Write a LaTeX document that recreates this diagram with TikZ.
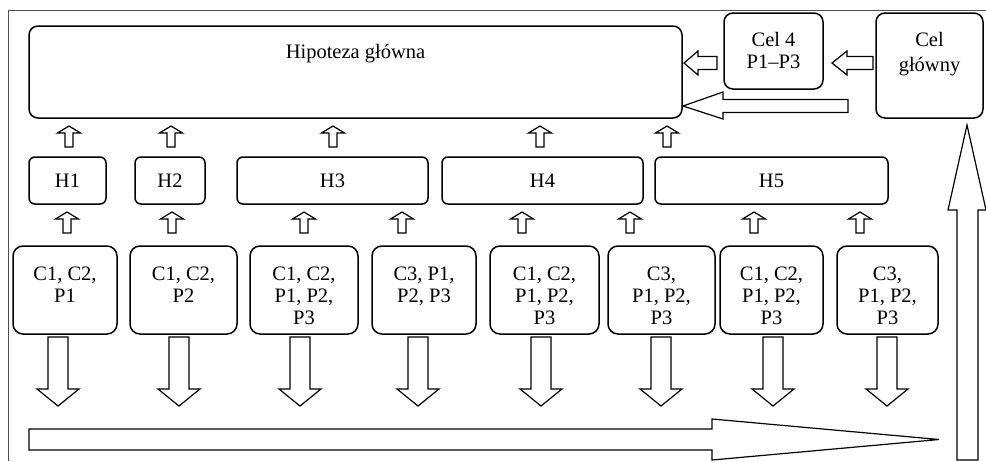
\documentclass[tikz,border=0pt]{standalone}
\usepackage{fontspec}
\setmainfont{Liberation Serif}
\usetikzlibrary{positioning}

% hollow block arrows (x = centre, y = tip)
\newcommand{\upblk}[2]{\draw[blk] (#1,#2) -- ++(11.5,7) -- ++(-7.5,0) -- ++(0,14) -- ++(-8,0) -- ++(0,-14) -- ++(-7.5,0) -- cycle;}
\newcommand{\downblk}[2]{\draw[blk] (#1,#2) -- ++(21,-17) -- ++(-11,0) -- ++(0,-52) -- ++(-20,0) -- ++(0,52) -- ++(-11,0) -- cycle;}
\newcommand{\leftblk}[2]{\draw[blk] (#1,#2) -- ++(14,-12) -- ++(0,5.5) -- ++(19,0) -- ++(0,13) -- ++(-19,0) -- ++(0,5.5) -- cycle;}

\begin{document}
\begin{tikzpicture}[x=1pt, y=-1pt,
    every node/.style={font=\fontsize{20.5}{22}\selectfont},
    box/.style={draw, line width=1.5pt, rounded corners=9pt, inner sep=0pt},
    hbox/.style={draw, line width=1.5pt, rounded corners=6pt, inner sep=0pt, minimum height=47pt},
    cbox/.style={draw, line width=1.5pt, rounded corners=10pt, inner sep=0pt, minimum height=88pt},
    txt/.style={inner sep=0pt, align=center},
    blk/.style={draw, line width=1.2pt, fill=white, line join=miter}]
  \useasboundingbox (0,0) rectangle (986,461);

  % frame
  \draw[black!70, line width=1pt] (8,461) -- (8,10) -- (986,10);

  \begin{scope}
    \node[box, minimum width=653pt, minimum height=92pt] (main) at (355.5,72) {};
    \node[txt, below=19pt of main.north] (maintxt) {Hipoteza główna};

    \node[box, minimum width=99pt, minimum height=76pt] (cel4) at (773.5,51) {};
    \node[txt, below=20pt of cel4.north] (cel4txt) {Cel 4\\P1–P3};

    \node[box, minimum width=107pt, minimum height=105pt] (celg) at (929.5,65.5) {};
    \node[txt, below=20pt of celg.north, font=\fontsize{20.5}{25}\selectfont] (celgtxt) {Cel\\główny};

    \leftblk{684}{63}
    \draw[blk] (832,63) -- ++(15,-12) -- ++(0,5.5) -- ++(26,0) -- ++(0,13) -- ++(-26,0) -- ++(0,5.5) -- cycle;
    \draw[blk] (683,106) -- (723,92) -- (723,99.5) -- (848,99.5) -- (848,112.5) -- (723,112.5) -- (723,119) -- cycle;
  \end{scope}

  \begin{scope}
    \node[hbox, minimum width=77pt] (h1) at (67.5,180.5) {H1};
    \node[hbox, minimum width=70pt] (h2) at (170,180.5) {H2};
    \node[hbox, minimum width=191pt] (h3) at (332.5,180.5) {H3};
    \node[hbox, minimum width=201pt] (h4) at (542.5,180.5) {H4};
    \node[hbox, minimum width=233pt] (h5) at (771.5,180.5) {H5};

    \foreach \x in {69,171,333,540,667}
      {\upblk{\x}{126}}
    \foreach \x in {67,172,304,402,522,630,754,860}
      {\upblk{\x}{212}}
  \end{scope}

  \begin{scope}
    \node[cbox, minimum width=104pt] (c1) at (65,290) {};
    \node[cbox, minimum width=107pt] (c2) at (183.5,290) {};
    \node[cbox, minimum width=108pt] (c3) at (304,290) {};
    \node[cbox, minimum width=104pt] (c4) at (424,290) {};
    \node[cbox, minimum width=109pt] (c5) at (544.5,290) {};
    \node[cbox, minimum width=107pt] (c6) at (661.5,290) {};
    \node[cbox, minimum width=103pt] (c7) at (771.5,290) {};
    \node[cbox, minimum width=101pt] (c8) at (887.5,290) {};

    \node[txt, below=21pt of c1.north] (c1txt) {C1, C2,\\P1};
    \node[txt, below=21pt of c2.north] (c2txt) {C1, C2,\\P2};
    \node[txt, below=21pt of c3.north] (c3txt) {C1, C2,\\P1, P2,\\P3};
    \node[txt, below=21pt of c4.north] (c4txt) {C3, P1,\\P2, P3};
    \node[txt, below=21pt of c5.north] (c5txt) {C1, C2,\\P1, P2,\\P3};
    \node[txt, below=21pt of c6.north] (c6txt) {C3,\\P1, P2,\\P3};
    \node[txt, below=21pt of c7.north] (c7txt) {C1, C2,\\P1, P2,\\P3};
    \node[txt, below=21pt of c8.north] (c8txt) {C3,\\P1, P2,\\P3};

    \foreach \x in {58,179,300,418,541,661,773,887}
      {\downblk{\x}{406}}
  \end{scope}

  % long arrows
  \draw[blk] (29,429) -- (712,429) -- (712,419) -- (939,439.5) -- (712,460) -- (712,450) -- (29,450) -- cycle;
  \draw[blk] (967,125) -- (986,210) -- (978,210) -- (978,460) -- (957,460) -- (957,210) -- (948,210) -- cycle;
\end{tikzpicture}
\end{document}
